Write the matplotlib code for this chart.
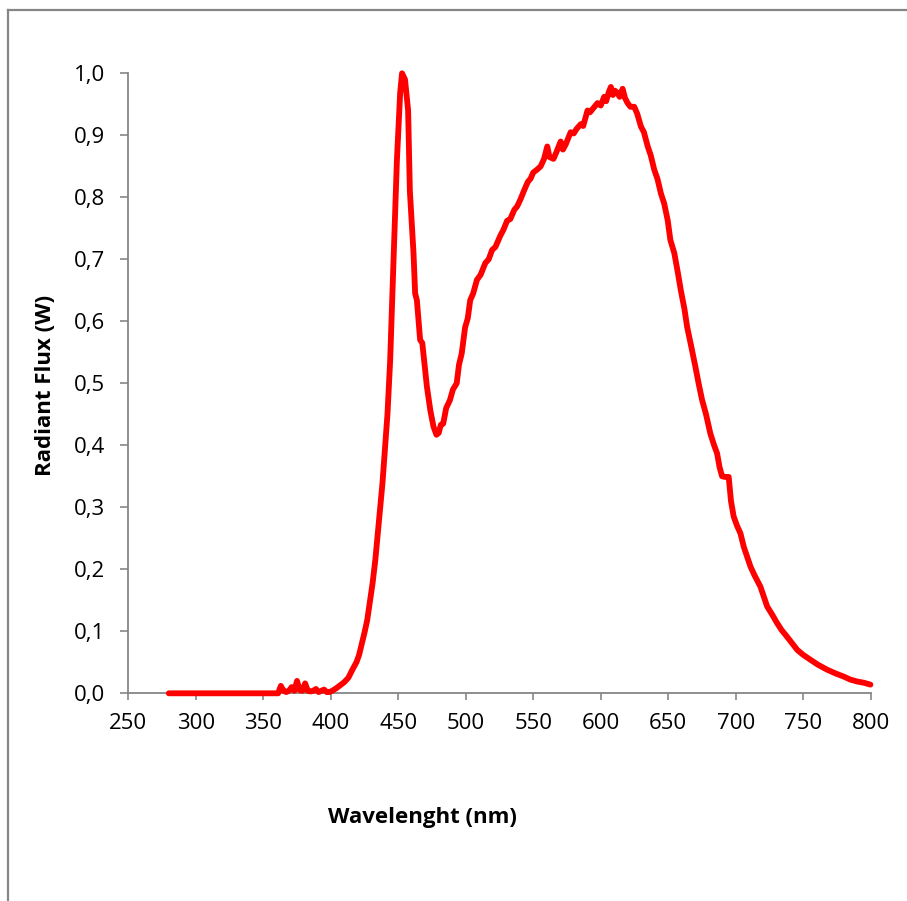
import matplotlib
matplotlib.use("Agg")
import matplotlib.pyplot as plt
from matplotlib.lines import Line2D
from matplotlib.ticker import FuncFormatter

# ---- data ----
wavelength = [280, 300, 320, 340, 361, 363, 365, 367, 369, 371, 373, 375, 377, 379,
              381, 383, 385, 387, 389, 391, 393, 395, 397, 399, 401, 404, 407, 410,
              413, 416, 419, 421, 423, 425, 427, 429, 431, 433, 434.5, 436, 438.3,
              440.3, 442, 444, 446.5, 449, 451.4, 452.8, 455, 457.3, 458.6, 461.3,
              462.5, 463.8, 466.2, 467.8, 471.2, 473.7, 476.1, 478.3, 480, 481.5,
              483.3, 485.5, 488.3, 490.5, 493.3, 495, 497, 499.5, 501.5, 503.3, 505.5,
              508.3, 511, 514.5, 517, 519.5, 522, 525.6, 528, 530.6, 533, 536, 538,
              540.6, 543, 546, 548, 550, 553, 555.5, 558, 560.4, 562, 565, 567, 570.3,
              572, 574, 577.7, 580, 582, 585.2, 587, 590.2, 592, 595, 597.6, 600,
              602.5, 604, 606, 607.5, 609, 610.5, 612.5, 614, 616.2, 618, 619.9, 622,
              624.8, 627, 629.8, 632, 634.8, 637, 639.7, 642, 644.6, 647, 649.6, 651.6,
              654.5, 657, 659.5, 662, 664, 667, 670.1, 672.5, 675.1, 678, 681.2, 684,
              686.2, 688, 689.9, 692, 694.8, 696.5, 698.5, 701, 703.5, 706, 708.5, 711,
              714, 718.3, 723.3, 727, 730.7, 734, 738.1, 742, 745.6, 750, 755.4, 761,
              767.8, 774, 780, 785, 790, 795, 799.8]
flux = [0, 0, 0, 0, 0, 0.012, 0.004, 0.002, 0.004, 0.010, 0.004, 0.020, 0.005, 0.004,
        0.016, 0.004, 0.003, 0.004, 0.007, 0.002, 0.004, 0.006, 0.002, 0.002, 0.004,
        0.008, 0.013, 0.018, 0.025, 0.038, 0.050, 0.062, 0.080, 0.098, 0.118, 0.148,
        0.178, 0.215, 0.250, 0.285, 0.339, 0.400, 0.450, 0.537, 0.700, 0.860, 0.968,
        1.000, 0.990, 0.940, 0.810, 0.710, 0.645, 0.634, 0.570, 0.565, 0.495, 0.457,
        0.430, 0.417, 0.420, 0.433, 0.435, 0.460, 0.473, 0.490, 0.500, 0.530, 0.548,
        0.590, 0.605, 0.634, 0.645, 0.667, 0.675, 0.694, 0.700, 0.715, 0.720, 0.738,
        0.748, 0.762, 0.765, 0.780, 0.785, 0.797, 0.810, 0.825, 0.830, 0.840, 0.845,
        0.850, 0.862, 0.882, 0.865, 0.862, 0.872, 0.890, 0.877, 0.885, 0.905, 0.903,
        0.910, 0.918, 0.915, 0.940, 0.937, 0.945, 0.952, 0.948, 0.962, 0.955, 0.970,
        0.978, 0.965, 0.972, 0.968, 0.962, 0.975, 0.960, 0.952, 0.946, 0.946, 0.935,
        0.914, 0.905, 0.882, 0.868, 0.844, 0.830, 0.806, 0.790, 0.763, 0.731, 0.710,
        0.680, 0.648, 0.620, 0.591, 0.560, 0.527, 0.500, 0.473, 0.450, 0.419, 0.400,
        0.387, 0.365, 0.350, 0.349, 0.349, 0.310, 0.285, 0.270, 0.258, 0.236, 0.220,
        0.204, 0.190, 0.172, 0.140, 0.127, 0.113, 0.102, 0.091, 0.080, 0.070, 0.062,
        0.054, 0.046, 0.038, 0.032, 0.027, 0.022, 0.019, 0.017, 0.014]
x_ticks = [250, 300, 350, 400, 450, 500, 550, 600, 650, 700, 750, 800]
y_ticks = [0.0, 0.1, 0.2, 0.3, 0.4, 0.5, 0.6, 0.7, 0.8, 0.9, 1.0]
x_label = "Wavelenght (nm)"
y_label = "Radiant Flux (W)"

plt.rcParams['font.family'] = ['Open Sans', 'DejaVu Sans']
GREY = '#868686'

W, H = 907, 901
fig = plt.figure(figsize=(W / 100, H / 100), dpi=100)
fig.patch.set_facecolor('white')

# outer chart-area frame (only left and top edges visible)
fig.add_artist(Line2D([8 / W, 8 / W], [0, 1 - 10 / H], transform=fig.transFigure,
                      color=GREY, lw=1.6))
fig.add_artist(Line2D([8 / W, 1.0], [1 - 10 / H, 1 - 10 / H], transform=fig.transFigure,
                      color=GREY, lw=1.6))

left, right = 128.3 / W, 870.7 / W
bottom, top = 1 - 693.3 / H, 1 - 73.3 / H
ax = fig.add_axes([left, bottom, right - left, top - bottom])

ax.plot(wavelength, flux, color='#FF0000', lw=4.2, solid_joinstyle='round',
        solid_capstyle='round', clip_on=False, zorder=4)

ax.set_xlim(250, 800)
ax.set_ylim(0, 1.0)
ax.set_xticks(x_ticks)
ax.set_yticks(y_ticks)
ax.yaxis.set_major_formatter(FuncFormatter(lambda v, p: f"{v:.1f}".replace('.', ',')))

for s in ['top', 'right']:
    ax.spines[s].set_visible(False)
for s in ['left', 'bottom']:
    ax.spines[s].set_color(GREY)
    ax.spines[s].set_linewidth(1.3)

ax.tick_params(axis='y', direction='out', length=6, width=1.2, color=GREY,
               labelsize=16, pad=11, labelcolor='black')
ax.tick_params(axis='x', direction='out', length=5, width=1.2, color=GREY,
               labelsize=16, pad=9, labelcolor='black')

fig.text(422 / W, 1 - 818 / H, x_label, ha='center', va='center',
         fontsize=16, fontweight='bold')
fig.text(46 / W, 1 - 385 / H, y_label, ha='center', va='center', rotation=90,
         fontsize=16, fontweight='bold')

fig.savefig('out.png', dpi=100, facecolor='white')
